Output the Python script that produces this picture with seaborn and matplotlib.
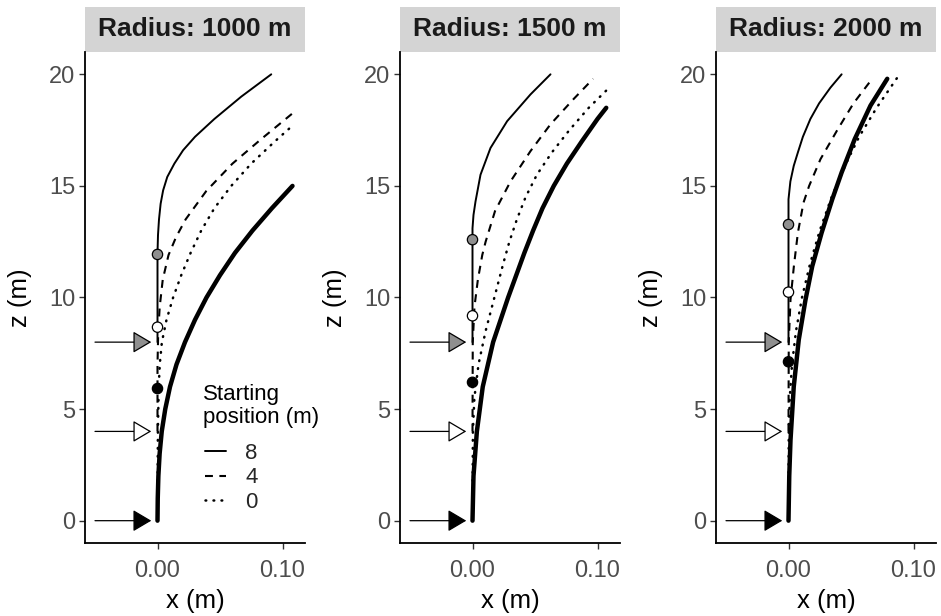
import numpy as np
import pandas as pd
import matplotlib
matplotlib.use("Agg")
import matplotlib.pyplot as plt
from matplotlib.lines import Line2D
from matplotlib.patches import Rectangle
import seaborn as sns

# ---------------- data ----------------
panels = ["Radius: 1000 m", "Radius: 1500 m", "Radius: 2000 m"]
start_positions = [8, 4, 0]
start_labels = ["8", "4", "0"]

# trajectories (x in m, z in m) per panel, per starting position
p1_s8_z = [8, 10, 12, 12.8, 13.5, 14.2, 14.8, 15.4, 16.0, 16.6, 17.2, 18.0, 19.0, 20.0]
p1_s8_x = [0, 0, 0, 0.0004, 0.0012, 0.0025, 0.0045, 0.0078, 0.0135, 0.0205, 0.030, 0.0455, 0.067, 0.091]
p1_s4_z = [4, 7, 8.5, 9.6, 10.8, 11.9, 12.7, 13.5, 14.77, 16.0, 17.1, 18.25]
p1_s4_x = [0, 0, 0.0006, 0.0018, 0.0042, 0.0088, 0.0148, 0.0225, 0.039, 0.060, 0.083, 0.108]
p1_s0_z = [0, 4, 6, 7, 8, 9, 10, 11, 12, 13, 14, 15, 16, 17, 17.7]
p1_s0_x = [0, 0.0003, 0.001, 0.0018, 0.0035, 0.0072, 0.0125, 0.019, 0.0265, 0.035, 0.0455, 0.059, 0.075, 0.094, 0.108]
p1_ref_z = [0, 1, 2, 3, 4, 5, 6, 7, 8, 9, 10, 11, 12, 13, 14, 15]
p1_ref_x = [0, 0.0002, 0.0007, 0.0017, 0.0034, 0.0062, 0.0100, 0.0152, 0.0220, 0.0300, 0.0392, 0.0500, 0.0620, 0.0760, 0.0915, 0.108]

p2_s8_z = [8, 12.5, 13.1, 13.7, 14.3, 15.5, 16.7, 17.9, 19.1, 20.0]
p2_s8_x = [0, 0, 0, 0.0008, 0.0024, 0.0064, 0.0144, 0.0277, 0.0464, 0.0624]
p2_s4_z = [4, 8, 9.6, 10.8, 11.9, 12.5, 13.87, 15.2, 16.56, 17.76, 18.9, 19.8]
p2_s4_x = [0, 0.0002, 0.0016, 0.0043, 0.0078, 0.0105, 0.018, 0.0304, 0.0464, 0.0624, 0.081, 0.0965]
p2_s0_z = [0, 4, 5.5, 7, 8.5, 10, 11.5, 12.5, 13.5, 14.5, 15.5, 16.5, 17.5, 18.5, 19.3]
p2_s0_x = [0, 0.0003, 0.0015, 0.0048, 0.0105, 0.0175, 0.0245, 0.0295, 0.0355, 0.0425, 0.0515, 0.0635, 0.0775, 0.093, 0.1075]
p2_ref_z = [0, 2, 4, 6, 8, 10, 12, 13, 14, 15, 16, 17, 18, 18.5]
p2_ref_x = [0, 0.0008, 0.0035, 0.0082, 0.0165, 0.0285, 0.0415, 0.0485, 0.056, 0.065, 0.0755, 0.0875, 0.100, 0.107]

p3_s8_z = [8, 14.4, 15.2, 15.9, 16.5, 17.2, 18.0, 18.7, 19.4, 20.0]
p3_s8_x = [0, 0, 0.0015, 0.0042, 0.0075, 0.0115, 0.0175, 0.0245, 0.0335, 0.0425]
p3_s4_z = [4, 8, 9.9, 11.4, 12.9, 14.25, 15.0, 16.2, 17.5, 18.7, 19.7]
p3_s4_x = [0, 0.0002, 0.0016, 0.0043, 0.0075, 0.012, 0.0165, 0.0256, 0.039, 0.052, 0.0656]
p3_s0_z = [0, 4, 5.5, 7, 8.5, 10, 11.5, 13, 14.5, 16, 17.2, 18.5, 19.85]
p3_s0_x = [0, 0.0002, 0.001, 0.0028, 0.006, 0.0108, 0.0172, 0.025, 0.0345, 0.046, 0.0565, 0.0705, 0.087]
p3_ref_z = [0, 2, 3.6, 6.0, 8.1, 9.9, 11.4, 12.9, 14.4, 15.6, 17.1, 18.6, 19.8]
p3_ref_x = [0, 0.0006, 0.0016, 0.0042, 0.0082, 0.0136, 0.019, 0.0265, 0.035, 0.0425, 0.053, 0.0656, 0.079]

# marker points on x = 0 (z values), order: start 8 (grey), 4 (white), 0 (black)
point_z = {
    panels[0]: [11.93, 8.67, 5.92],
    panels[1]: [12.59, 9.18, 6.20],
    panels[2]: [13.27, 10.24, 7.12],
}
point_x = [0.0, 0.0, 0.0]

# injection arrows
arrow_x_start = -0.05
arrow_x_end = -0.005

fills = ["#8f8f8f", "white", "black"]

traj = {
    panels[0]: [(p1_s8_x, p1_s8_z), (p1_s4_x, p1_s4_z), (p1_s0_x, p1_s0_z), (p1_ref_x, p1_ref_z)],
    panels[1]: [(p2_s8_x, p2_s8_z), (p2_s4_x, p2_s4_z), (p2_s0_x, p2_s0_z), (p2_ref_x, p2_ref_z)],
    panels[2]: [(p3_s8_x, p3_s8_z), (p3_s4_x, p3_s4_z), (p3_s0_x, p3_s0_z), (p3_ref_x, p3_ref_z)],
}
line_names = ["8", "4", "0", "ref"]

# ---------------- style ----------------
sns.set_theme(style="ticks")
plt.rcParams["font.family"] = ["Liberation Sans", "DejaVu Sans"]

W, H = 941, 616
fig = plt.figure(figsize=(W / 100, H / 100), dpi=100)

ax_lefts = [85, 400, 716]
ax_w = 220
ax_top, ax_bot = 52, 543
strip_h = 45
ax_h = ax_bot - ax_top

styles = {
    "8": dict(linestyle="-", linewidth=1.4, cap="butt"),
    "4": dict(linestyle=(0, (3.8, 3.1)), linewidth=1.5, cap="butt"),
    "0": dict(linestyle=(0, (0.3, 2.9)), linewidth=1.8, cap="round"),
    "ref": dict(linestyle="-", linewidth=3.2, cap="butt"),
}

for i, panel in enumerate(panels):
    ax = fig.add_axes([ax_lefts[i] / W, 1 - ax_bot / H, ax_w / W, ax_h / H])
    for name, (xs, zs) in zip(line_names, traj[panel]):
        df = pd.DataFrame({"x": xs, "z": zs})
        st = styles[name]
        sns.lineplot(data=df, x="x", y="z", sort=False, estimator=None, ax=ax,
                     color="black", linewidth=st["linewidth"],
                     linestyle=st["linestyle"], zorder=3,
                     dash_capstyle=st["cap"], solid_joinstyle="round",
                     dash_joinstyle="round")
    # arrows
    for zpos, fc in zip(start_positions, fills):
        ax.annotate("", xy=(arrow_x_end, zpos), xytext=(arrow_x_start, zpos),
                    arrowprops=dict(arrowstyle="-|>,head_length=1.15,head_width=0.68",
                                    mutation_scale=10, fc=fc, ec="black", lw=0.9,
                                    shrinkA=0, shrinkB=0),
                    zorder=4)
    # points
    pdf = pd.DataFrame({"x": point_x, "z": point_z[panel], "fill": fills})
    sns.scatterplot(data=pdf, x="x", y="z", hue="fill", palette={f: f for f in fills},
                    s=55, edgecolor="black", linewidth=0.9, legend=False, ax=ax, zorder=5)

    ax.set_xlim(-0.058, 0.118)
    ax.set_ylim(-1, 21)
    ax.set_xticks([0.0, 0.1])
    ax.set_xticklabels(["0.00", "0.10"])
    ax.set_yticks([0, 5, 10, 15, 20])
    ax.set_yticklabels(["0", "5", "10", "15", "20"])
    sns.despine(ax=ax)
    for sp in ["left", "bottom"]:
        ax.spines[sp].set_linewidth(1.3)
        ax.spines[sp].set_color("black")
    ax.tick_params(axis="both", length=4, width=1.0, color="#333333",
                   labelsize=17, labelcolor="#4d4d4d")
    ax.tick_params(axis="x", pad=8)
    ax.tick_params(axis="y", pad=3)
    ax.set_xlabel("x (m)", fontsize=18.5, color="black", labelpad=5)
    ax.set_ylabel("z (m)", fontsize=18.5, color="black", labelpad=12)

    # facet strip
    sh = strip_h / ax_h
    ax.add_patch(Rectangle((0, 1), 1, sh, transform=ax.transAxes, clip_on=False,
                           facecolor="#d4d4d4", edgecolor="none"))
    ax.text(0.5, 1 + sh / 2, panel, transform=ax.transAxes, ha="center", va="center",
            fontsize=19, fontweight="bold", color="#1a1a1a")

    if i == 0:
        ax.text((203 - ax_lefts[0]) / ax_w, (ax_bot - 384) / ax_h, "Starting\nposition (m)",
                transform=ax.transAxes, ha="left", va="top", fontsize=16,
                linespacing=1.15, color="black")
        handles = [Line2D([], [], color="black", linewidth=styles[k]["linewidth"],
                          linestyle=styles[k]["linestyle"],
                          dash_capstyle=styles[k]["cap"]) for k in start_labels]
        leg = ax.legend(handles, start_labels,
                        loc="upper left",
                        bbox_to_anchor=((205 - ax_lefts[0]) / ax_w, (ax_bot - 443) / ax_h),
                        frameon=False, fontsize=16, handlelength=0.95,
                        handletextpad=0.85, labelspacing=0.15, borderpad=0,
                        borderaxespad=0)

fig.savefig("out.png", dpi=100)
